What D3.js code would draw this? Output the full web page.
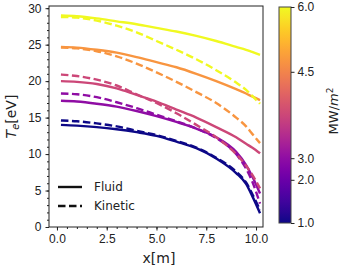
<!DOCTYPE html>
<html>
<head>
<meta charset="utf-8">
<script src="https://cdn.jsdelivr.net/npm/d3@7"></script>
<style>
  body { margin: 0; background: #fff; }
  svg { font-family: "DejaVu Sans", sans-serif; }
  .axis text { font-size: 12px; fill: #222; }
  .axis path, .axis line { stroke: #222; }
</style>
</head>
<body>
<svg width="342" height="268"></svg>
<script>
// x positions shared by every curve
var xs = [0.2, 1, 2, 3, 4, 5, 6, 7, 8, 9, 9.5, 9.8, 10.2];

// electron temperature, fluid runs (one per input power)
var fluid1 = [14.0, 13.9, 13.7, 13.4, 13.0, 12.5, 11.7, 10.8, 9.4, 7.4, 5.9, 4.3, 1.9];
var fluid2 = [17.3, 17.2, 16.9, 16.5, 15.9, 15.2, 14.4, 13.5, 12.3, 10.3, 8.5, 7.0, 4.6];
var fluid3 = [20.0, 19.9, 19.6, 19.0, 18.1, 17.2, 16.1, 15.0, 13.7, 12.3, 11.4, 10.9, 10.1];
var fluid45 = [24.7, 24.6, 24.3, 23.9, 23.3, 22.6, 21.9, 21.0, 20.0, 18.9, 18.3, 17.9, 17.4];
var fluid6 = [29.0, 28.9, 28.6, 28.2, 27.8, 27.3, 26.8, 26.2, 25.5, 24.7, 24.3, 24.0, 23.6];

// kinetic runs
var kin1 = [14.6, 14.5, 14.2, 13.8, 13.2, 12.6, 11.8, 10.9, 9.5, 7.6, 6.1, 4.6, 2.3];
var kin2 = [18.3, 18.2, 17.8, 17.1, 16.3, 15.4, 14.5, 13.5, 12.2, 10.0, 8.0, 6.3, 3.2];
var kin3 = [20.9, 20.7, 20.2, 19.4, 18.2, 17.0, 15.6, 14.0, 12.3, 10.0, 8.4, 7.2, 5.3];
var kin45 = [24.6, 24.5, 24.1, 23.4, 22.4, 21.2, 19.9, 18.5, 17.0, 15.0, 13.8, 12.8, 11.5];
var kin6 = [28.8, 28.7, 28.3, 27.6, 26.7, 25.5, 24.3, 23.0, 21.5, 19.8, 18.8, 18.0, 16.9];

// position of each run in the plasma colour map
var runColorT = [0.0, 0.3, 0.5, 0.75, 1.0];

// colorbar ticks (position along the bar, label)
var cbTickPos = [0, 0.2, 0.3, 0.7, 1.0];
var cbTickLabels = ["1.0", "2.0", "3.0", "4.5", "6.0"];

var xTicks = [0, 2.5, 5, 7.5, 10];
var yTicks = [0, 5, 10, 15, 20, 25, 30];
var legendLabels = ["Fluid", "Kinetic"];

var fluidRuns = [fluid1, fluid2, fluid3, fluid45, fluid6];
var kinRuns = [kin1, kin2, kin3, kin45, kin6];

var svg = d3.select("svg");

var margin = {left: 49, right: 263, top: 6, bottom: 227};

var xScale = d3.scaleLinear().domain([-0.4, 10.35]).range([margin.left, margin.right]);
var yScale = d3.scaleLinear().domain([0, 30.3]).range([margin.bottom, margin.top]);

var line = d3.line()
  .x(function(d) { return xScale(d[0]); })
  .y(function(d) { return yScale(d[1]); })
  .curve(d3.curveMonotoneX);

var plot = svg.append("g").attr("id", "plot");

// draw solid first then dashed, in order of power
fluidRuns.forEach(function(run, i) {
  plot.append("path")
    .datum(d3.zip(xs, run))
    .attr("d", line)
    .attr("fill", "none")
    .attr("stroke", d3.interpolatePlasma(runColorT[i]))
    .attr("stroke-width", 2.4);
});
kinRuns.forEach(function(run, i) {
  plot.append("path")
    .datum(d3.zip(xs, run))
    .attr("d", line)
    .attr("fill", "none")
    .attr("stroke", d3.interpolatePlasma(runColorT[i]))
    .attr("stroke-width", 2.4)
    .attr("stroke-dasharray", "7.5,3.5");
});

// frame
svg.append("rect")
  .attr("x", margin.left).attr("y", margin.top)
  .attr("width", margin.right - margin.left)
  .attr("height", margin.bottom - margin.top)
  .attr("fill", "none").attr("stroke", "#222").attr("stroke-width", 1);

// axes with minor ticks
var xMinor = d3.range(0, 10.01, 0.5);
var yMinor = d3.range(0, 30.01, 1);

svg.append("g").attr("class", "axis")
  .attr("transform", "translate(0," + margin.bottom + ")")
  .call(d3.axisBottom(xScale).tickValues(xMinor).tickSize(2).tickFormat(""))
  .call(function(g) { g.select(".domain").remove(); });
svg.append("g").attr("class", "axis")
  .attr("transform", "translate(0," + margin.bottom + ")")
  .call(d3.axisBottom(xScale).tickValues(xTicks).tickSize(3.5).tickPadding(4).tickFormat(d3.format(".1f")))
  .call(function(g) { g.select(".domain").remove(); });

svg.append("g").attr("class", "axis")
  .attr("transform", "translate(" + margin.left + ",0)")
  .call(d3.axisLeft(yScale).tickValues(yMinor).tickSize(2).tickFormat(""))
  .call(function(g) { g.select(".domain").remove(); });
svg.append("g").attr("class", "axis")
  .attr("transform", "translate(" + margin.left + ",0)")
  .call(d3.axisLeft(yScale).tickValues(yTicks).tickSize(3.5).tickPadding(4))
  .call(function(g) { g.select(".domain").remove(); });

// axis labels
svg.append("text")
  .attr("x", (margin.left + margin.right) / 2 + 3)
  .attr("y", 263)
  .attr("text-anchor", "middle")
  .style("font-size", "14px").style("fill", "#222")
  .text("x[m]");

var yLab = svg.append("text")
  .attr("transform", "translate(16," + ((margin.top + margin.bottom) / 2) + ") rotate(-90)")
  .attr("text-anchor", "middle")
  .style("font-size", "14px").style("fill", "#222");
yLab.append("tspan").style("font-style", "italic").text("T");
yLab.append("tspan").attr("dy", 3).style("font-size", "10px").style("font-style", "italic").text("e");
yLab.append("tspan").attr("dy", -3).text("[eV]");

// legend
var legend = svg.append("g").attr("transform", "translate(58,187)");
legendLabels.forEach(function(lab, i) {
  legend.append("line")
    .attr("x1", 0).attr("x2", 24)
    .attr("y1", i * 19).attr("y2", i * 19)
    .attr("stroke", "#111").attr("stroke-width", 2.4)
    .attr("stroke-dasharray", i === 1 ? "7.5,3.5" : null);
  legend.append("text")
    .attr("x", 36).attr("y", i * 19 + 4)
    .style("font-size", "12px").style("fill", "#222")
    .text(lab);
});

// colorbar
var cb = {x: 279, w: 12, top: 7, bottom: 223};
var defs = svg.append("defs");
var grad = defs.append("linearGradient").attr("id", "plasma")
  .attr("x1", 0).attr("y1", 1).attr("x2", 0).attr("y2", 0);
d3.range(0, 1.001, 0.05).forEach(function(t) {
  grad.append("stop").attr("offset", t).attr("stop-color", d3.interpolatePlasma(t));
});
svg.append("rect")
  .attr("x", cb.x).attr("y", cb.top)
  .attr("width", cb.w).attr("height", cb.bottom - cb.top)
  .attr("fill", "url(#plasma)")
  .attr("stroke", "#444").attr("stroke-width", 1);

var cbScale = d3.scaleLinear().domain([0, 1]).range([cb.bottom, cb.top]);
svg.append("g").attr("class", "axis")
  .attr("transform", "translate(" + (cb.x + cb.w) + ",0)")
  .call(d3.axisRight(cbScale).tickValues(cbTickPos).tickSize(3.5).tickPadding(3)
    .tickFormat(function(d, i) { return cbTickLabels[i]; }))
  .call(function(g) { g.select(".domain").remove(); });

var cbLab = svg.append("text")
  .attr("transform", "translate(338,111) rotate(-90)")
  .attr("text-anchor", "middle")
  .style("font-size", "13px").style("fill", "#222");
cbLab.append("tspan").text("MW/");
cbLab.append("tspan").style("font-style", "italic").text("m");
cbLab.append("tspan").attr("dy", -5).style("font-size", "9px").text("2");
</script>
</body>
</html>
